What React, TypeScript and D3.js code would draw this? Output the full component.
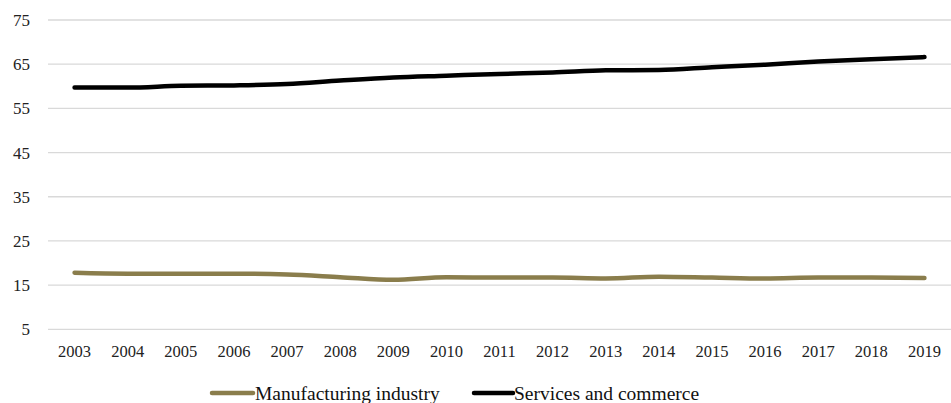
import React from "react";
import * as d3 from "d3";

const years = ["2003","2004","2005","2006","2007","2008","2009","2010","2011","2012","2013","2014","2015","2016","2017","2018","2019"];
const manufacturing = [17.8, 17.6, 17.6, 17.6, 17.4, 16.8, 16.2, 16.8, 16.7, 16.7, 16.5, 16.9, 16.7, 16.5, 16.7, 16.7, 16.6];
const services = [59.7, 59.7, 60.1, 60.2, 60.5, 61.3, 62.0, 62.4, 62.8, 63.1, 63.6, 63.7, 64.3, 64.9, 65.6, 66.1, 66.6];
const yTicks = [5, 15, 25, 35, 45, 55, 65, 75];
const seriesNames = ["Manufacturing industry", "Services and commerce"];
const colors = ["#8a7d4c", "#000000"];

export default function App() {
  const W = 951, H = 403;
  const x = d3.scaleBand<string>().domain(years).range([48, 951]);
  const y = d3.scaleLinear().domain([5, 75]).range([329.3, 20]);
  const line = d3.line<number>()
    .x((_, i) => (x(years[i]) as number) + x.bandwidth() / 2)
    .y((d) => y(d))
    .curve(d3.curveMonotoneX);
  const font = "'Liberation Serif', 'Times New Roman', serif";
  const legend = [
    { x1: 212, x2: 253, tx: 255 },
    { x1: 474, x2: 513, tx: 514 },
  ];
  return (
    <svg width={W} height={H} style={{ position: "absolute", left: 0, top: 0, background: "#fff" }}>
      {yTicks.map((t) => (
        <g key={t}>
          <line x1={48} x2={951} y1={y(t)} y2={y(t)} stroke="#d9d9d9" strokeWidth={1.3} />
          <text x={30} y={y(t)} dy="0.35em" textAnchor="end" fontFamily={font} fontSize={17} fill="#222">{t}</text>
        </g>
      ))}
      {years.map((yr) => (
        <text key={yr} x={(x(yr) as number) + x.bandwidth() / 2} y={357} textAnchor="middle" fontFamily={font} fontSize={16.5} fill="#222">{yr}</text>
      ))}
      {[manufacturing, services].map((s, i) => (
        <path key={i} d={line(s) || ""} fill="none" stroke={colors[i]} strokeWidth={4.5} strokeLinecap="round" strokeLinejoin="round" />
      ))}
      {legend.map((l, i) => (
        <g key={i}>
          <line x1={l.x1} x2={l.x2} y1={393} y2={393} stroke={colors[i]} strokeWidth={4.5} strokeLinecap="round" />
          <text x={l.tx} y={400} fontFamily={font} fontSize={19.5} fill="#111">{seriesNames[i]}</text>
        </g>
      ))}
    </svg>
  );
}
